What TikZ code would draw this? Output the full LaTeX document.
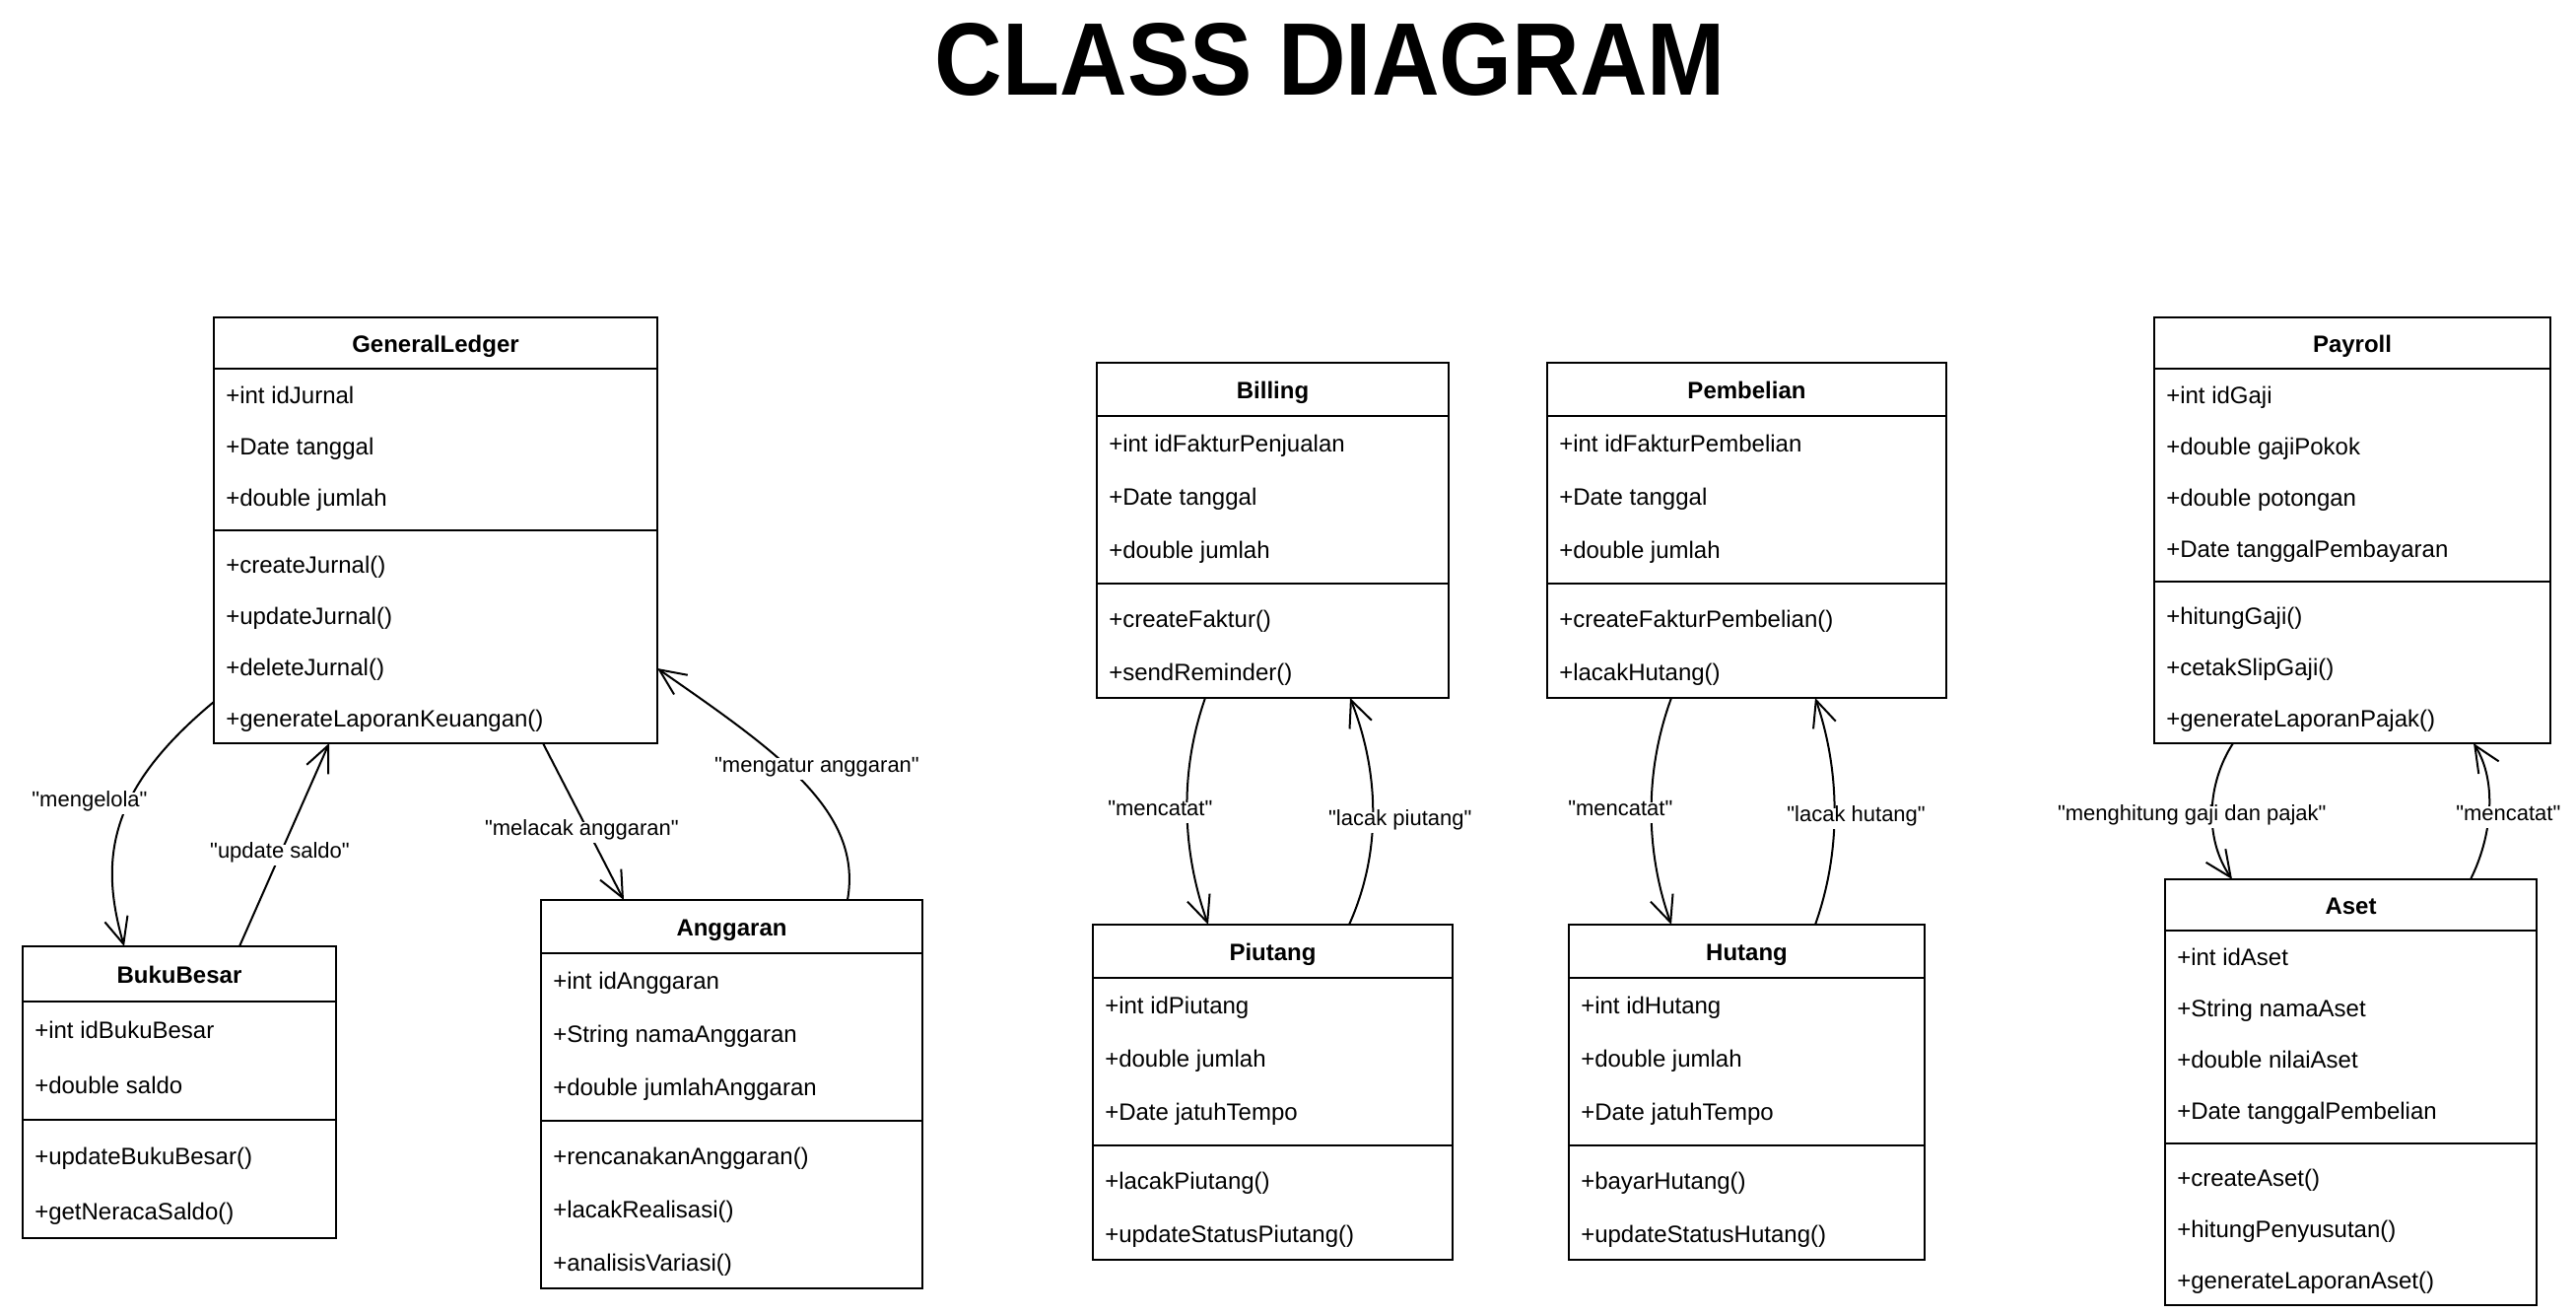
\documentclass[tikz,border=0pt]{standalone}
\usepackage{fontspec}
\usepackage{graphicx}
\setmainfont{Liberation Sans}[Ligatures=TeXOff]
\usetikzlibrary{arrows.meta,calc}
\tikzset{
  boxline/.style={line width=1.5pt},
  rowtext/.style={anchor=base west, inner sep=0pt, font=\fontsize{18pt}{21pt}\selectfont},
  headtext/.style={anchor=base, inner sep=0pt, font=\fontsize{18pt}{21pt}\selectfont\bfseries},
  classbox/.style={draw, line width=1.5pt, anchor=north west, inner sep=0pt, outer sep=0pt, fill=white},
  assoc/.style={line width=1.5pt, -{Straight Barb[length=20pt,width=18pt]}},
  lbl/.style={fill=white, inner xsep=1.5pt, inner ysep=3pt, text height=0.75em, text depth=0.25em, font=\fontsize{16.5pt}{18pt}\selectfont},
}
\newcommand\umlclass[8]{%
  \pgfmathsetmacro\cW{(#3-#2)*0.75}%
  \gdef\nA{0}\foreach \q [count=\i] in {#7}{\xdef\nA{\i}}%
  \gdef\nM{0}\foreach \q [count=\i] in {#8}{\xdef\nM{\i}}%
  \pgfmathsetmacro\cH{(#5*(1+\nA+\nM)+16)*0.75}%
  \node[classbox, minimum width=\cW pt, minimum height=\cH pt] (#1) at (#2,#4) {};
  \node[headtext] (#1-title) at ({(#2+#3)/2},{#4+#5/2+9.8}) {#6};
  \draw[boxline] ($(#1.north west)+(0,#5)$) -- ($(#1.north east)+(0,#5)$);
  \foreach \q [count=\i] in {#7}{\node[rowtext] (#1-a\i) at ({#2+12},{#4+#5*(\i+0.5)+9.8}) {\q};}
  \pgfmathsetmacro\sy{#5*(1+\nA)+8}
  \draw[boxline] ($(#1.north west)+(0,\sy)$) -- ($(#1.north east)+(0,\sy)$);
  \foreach \q [count=\i] in {#8}{\node[rowtext] (#1-m\i) at ({#2+12},{#4+#5*(1+\nA+\i-0.5)+16+9.8}) {\q};}
}
\begin{document}
\begin{tikzpicture}[x=0.75pt,y=-0.75pt]
\fill[white] (0,0) rectangle (2614,1332);
\node[inner sep=0pt, anchor=north] (title) at (1350,23) {\resizebox{601.5pt}{54.75pt}{\bfseries CLASS DIAGRAM}};

\umlclass{GL}{217}{667}{322}{52}{GeneralLedger}{+int idJurnal,+Date tanggal,+double jumlah}{+createJurnal(),+updateJurnal(),+deleteJurnal(),+generateLaporanKeuangan()}
\umlclass{BB}{23}{341}{960}{56}{BukuBesar}{+int idBukuBesar,+double saldo}{+updateBukuBesar(),+getNeracaSaldo()}
\umlclass{ANG}{549}{936}{913}{54}{Anggaran}{+int idAnggaran,+String namaAnggaran,+double jumlahAnggaran}{+rencanakanAnggaran(),+lacakRealisasi(),+analisisVariasi()}
\umlclass{BIL}{1113}{1470}{368}{54}{Billing}{+int idFakturPenjualan,+Date tanggal,+double jumlah}{+createFaktur(),+sendReminder()}
\umlclass{PEM}{1570}{1975}{368}{54}{Pembelian}{+int idFakturPembelian,+Date tanggal,+double jumlah}{+createFakturPembelian(),+lacakHutang()}
\umlclass{PIU}{1109}{1474}{938}{54}{Piutang}{+int idPiutang,+double jumlah,+Date jatuhTempo}{+lacakPiutang(),+updateStatusPiutang()}
\umlclass{HUT}{1592}{1953}{938}{54}{Hutang}{+int idHutang,+double jumlah,+Date jatuhTempo}{+bayarHutang(),+updateStatusHutang()}
\umlclass{PAY}{2186}{2588}{322}{52}{Payroll}{+int idGaji,+double gajiPokok,+double potongan,+Date tanggalPembayaran}{+hitungGaji(),+cetakSlipGaji(),+generateLaporanPajak()}
\umlclass{ASE}{2197}{2574}{892}{52}{Aset}{+int idAset,+String namaAset,+double nilaiAset,+Date tanggalPembelian}{+createAset(),+hitungPenyusutan(),+generateLaporanAset()}

% connectors
\draw[assoc] ($(GL.north west)+(0,390)$) .. controls +(-106,88) and +(-26,-90) .. ($(BB.north west)+(103,0)$);
\draw[assoc] ($(BB.north west)+(220,0)$) -- ($(GL.south west)+(117,0)$);
\draw[assoc] ($(GL.south west)+(334,0)$) -- ($(ANG.north west)+(84,0)$);
\draw[assoc] ($(ANG.north west)+(311,0)$) .. controls +(16,-90) and +(123,85.5) .. ($(GL.north east)+(0,356)$);
\draw[assoc] ($(BIL.south west)+(110,0)$) .. controls +(-27,77) and +(-26,-73) .. ($(PIU.north west)+(117,0)$);
\draw[assoc] ($(PIU.north west)+(260,0)$) .. controls +(33,-73) and +(30,76) .. ($(BIL.south west)+(257,0)$);
\draw[assoc] ($(PEM.south west)+(126,0)$) .. controls +(-28,76) and +(-26,-73) .. ($(HUT.north west)+(104,0)$);
\draw[assoc] ($(HUT.north west)+(250,0)$) .. controls +(26,-73) and +(26,76) .. ($(PEM.south west)+(272,0)$);
\draw[assoc] ($(PAY.south west)+(80,0)$) .. controls +(-26,40) and +(-29,-42) .. ($(ASE.north west)+(68,0)$);
\draw[assoc] ($(ASE.north west)+(310,0)$) .. controls +(21,-42) and +(25,40) .. ($(PAY.south west)+(324,0)$);

% labels
\node[lbl] (l1) at (91,815) {"mengelola"};
\node[lbl] (l2) at (284,867.6) {"update saldo"};
\node[lbl] (l3) at (590.4,844.5) {"melacak anggaran"};
\node[lbl] (l4) at (829,780) {"mengatur anggaran"};
\node[lbl] (l5) at (1177.3,824.6) {"mencatat"};
\node[lbl] (l6) at (1420.8,834.3) {"lacak piutang"};
\node[lbl] (l7) at (1644.3,824.6) {"mencatat"};
\node[lbl] (l8) at (1883.6,830.6) {"lacak hutang"};
\node[lbl] (l9) at (2224.3,829) {"menghitung gaji dan pajak"};
\node[lbl] (l10) at (2545.3,829) {"mencatat"};
\end{tikzpicture}
\end{document}
